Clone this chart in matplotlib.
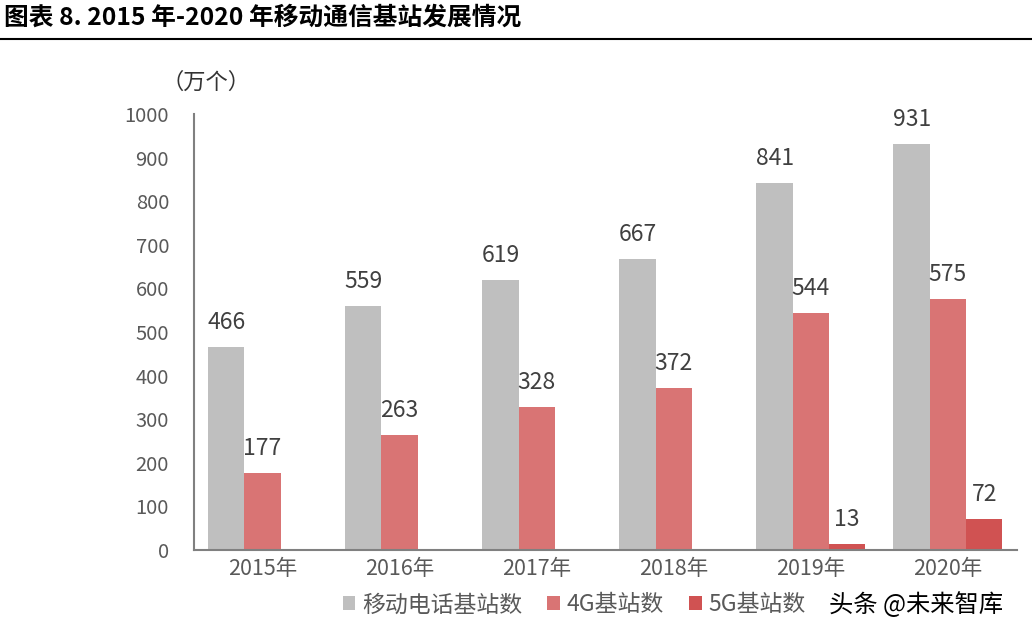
import matplotlib
matplotlib.use("Agg")
import matplotlib.pyplot as plt
import numpy as np

plt.rcParams['font.family'] = ['Noto Sans CJK SC', 'DejaVu Sans']

years = ["2015年", "2016年", "2017年", "2018年", "2019年", "2020年"]
mobile = [466, 559, 619, 667, 841, 931]
g4 = [177, 263, 328, 372, 544, 575]
g5 = [None, None, None, None, 13, 72]
series_names = ["移动电话基站数", "4G基站数", "5G基站数"]
colors = ["#BFBFBF", "#D97474", "#D05252"]
yticks = [0, 100, 200, 300, 400, 500, 600, 700, 800, 900, 1000]

fig = plt.figure(figsize=(10.32, 6.42), dpi=100)
ax = fig.add_axes([0.188, 0.1433, 0.797, 0.6791])

x = np.arange(len(years))
w = 0.265
label_color = "#404040"
handles = []
for i, (vals, c, name) in enumerate(zip([mobile, g4, g5], colors, series_names)):
    xs = [xx + (i - 1) * w for xx, v in zip(x, vals) if v is not None]
    vs = [v for v in vals if v is not None]
    b = ax.bar(xs, vs, width=w, color=c, label=name)
    handles.append(b)
    for xx, v in zip(xs, vs):
        ax.text(xx, v + 30, str(v), ha='center', va='bottom', fontsize=16.5, color=label_color)

ax.set_xlim(-0.5, len(years) - 0.5)
ax.set_ylim(0, 1000)
ax.set_yticks(yticks)
ax.set_yticklabels([str(t) for t in yticks])
ax.set_xticks(x)
ax.set_xticklabels(years)
ax.tick_params(axis='y', length=0, labelsize=14.5, colors="#595959", pad=18)
ax.tick_params(axis='x', length=0, labelsize=15.5, colors="#595959", pad=6)
for s in ['top', 'right']:
    ax.spines[s].set_visible(False)
for s in ['left', 'bottom']:
    ax.spines[s].set_color("#808080")
    ax.spines[s].set_linewidth(1.5)

fig.text(0.200, 0.872, "（万个）", fontsize=16, color="#333333", ha='center', va='center')

fig.text(0.004, 0.972, "图表 8. 2015 年-2020 年移动通信基站发展情况", fontsize=17.8, fontweight='bold',
         color="#000000", ha='left', va='center')
fig.add_artist(plt.Line2D([0, 1], [0.94, 0.94], color='black', linewidth=1.5, transform=fig.transFigure))

leg = fig.legend(handles=handles, labels=series_names, loc='center left', bbox_to_anchor=(0.332, 0.058),
                 ncol=3, frameon=False, fontsize=16.5, handlelength=0.55, handleheight=0.55,
                 handletextpad=0.3, columnspacing=1.1, labelcolor="#595959",
                 borderpad=0, borderaxespad=0)

fig.text(0.803, 0.058, "头条 @未来智库", fontsize=17.5, color="#000000", ha='left', va='center')

fig.savefig("out.png", dpi=100)
